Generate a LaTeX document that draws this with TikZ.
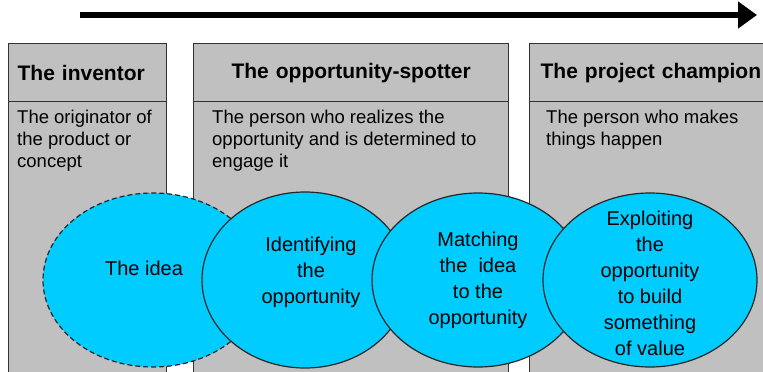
\documentclass[tikz,border=0pt]{standalone}
\usepackage{fontspec}
\setmainfont{Liberation Sans}
\usetikzlibrary{arrows.meta, positioning, shapes.geometric}
\definecolor{boxgray}{HTML}{C0C0C0}
\definecolor{ideacyan}{HTML}{00CCFF}
\tikzset{head/.style={rectangle,draw=black!80,fill=boxgray,line width=1.2pt,minimum height=58pt,inner xsep=0pt,font=\fontsize{21}{25}\selectfont\bfseries},body/.style={rectangle,draw=black!80,fill=boxgray,line width=1.2pt,minimum height=290pt},desc/.style={align=left,inner sep=0pt,anchor=north west,font=\fontsize{18.5}{22}\selectfont},stage/.style={ellipse,draw=black!85,fill=ideacyan,line width=1.2pt,inner sep=0pt},stagetext/.style={align=center,inner sep=0pt,font=\fontsize{20}{26}\selectfont},line/.style={-{Triangle[length=19pt,width=26pt]},line width=6.5pt}}

\begin{document}
\begin{tikzpicture}[x=1pt,y=-1pt]
\clip (0,0) rectangle (763,372);
\coordinate (t0) at (80,15);
\coordinate (t1) at (757,15);
\draw[line] (t0) -- (t1);
% the three roles
\node[head,text width=158pt,align=left,anchor=north west] (h1) at (8,43) {\hspace*{9pt}The inventor};
\node[body,minimum width=158pt,below=-1.2pt of h1] (b1) {};
\node[desc] (d1) at ([xshift=9pt,yshift=-9pt]b1.north west) {The originator of\\the product or\\concept};
\node[head,text width=315pt,align=center,anchor=north west] (h2) at (193,43) {The opportunity-spotter};
\node[body,minimum width=315pt,below=-1.2pt of h2] (b2) {};
\node[desc] (d2) at ([xshift=19pt,yshift=-9pt]b2.north west) {The person who realizes the\\opportunity and is determined to\\engage it};
\node[head,text width=260pt,align=left,anchor=north west] (h3) at (529,43) {\hspace*{11pt}The project champion};
\node[body,minimum width=260pt,below=-1.2pt of h3] (b3) {};
\node[desc] (d3) at ([xshift=17pt,yshift=-9pt]b3.north west) {The person who makes\\things happen};
% the stages
\node[stage,dash pattern=on 5pt off 3pt,minimum width=220pt,minimum height=174pt,label={[stagetext,xshift=-9pt,yshift=12pt]center:The idea}] (idea) at (153,280) {};
\node[stage,minimum width=206pt,minimum height=176pt,label={[stagetext,xshift=6pt,yshift=8pt]center:Identifying\\the\\opportunity}] (spot) at (305,280) {};
\node[stage,minimum width=212pt,minimum height=174pt,label={[stagetext]center:Matching\\the\ \ idea\\to the\\opportunity}] (match) at (478,280) {};
\node[stage,minimum width=214pt,minimum height=174pt,label={[stagetext,yshift=-3pt]center:Exploiting\\the\\opportunity\\to build\\something\\of value}] (exploit) at (650,280) {};
\end{tikzpicture}
\end{document}
